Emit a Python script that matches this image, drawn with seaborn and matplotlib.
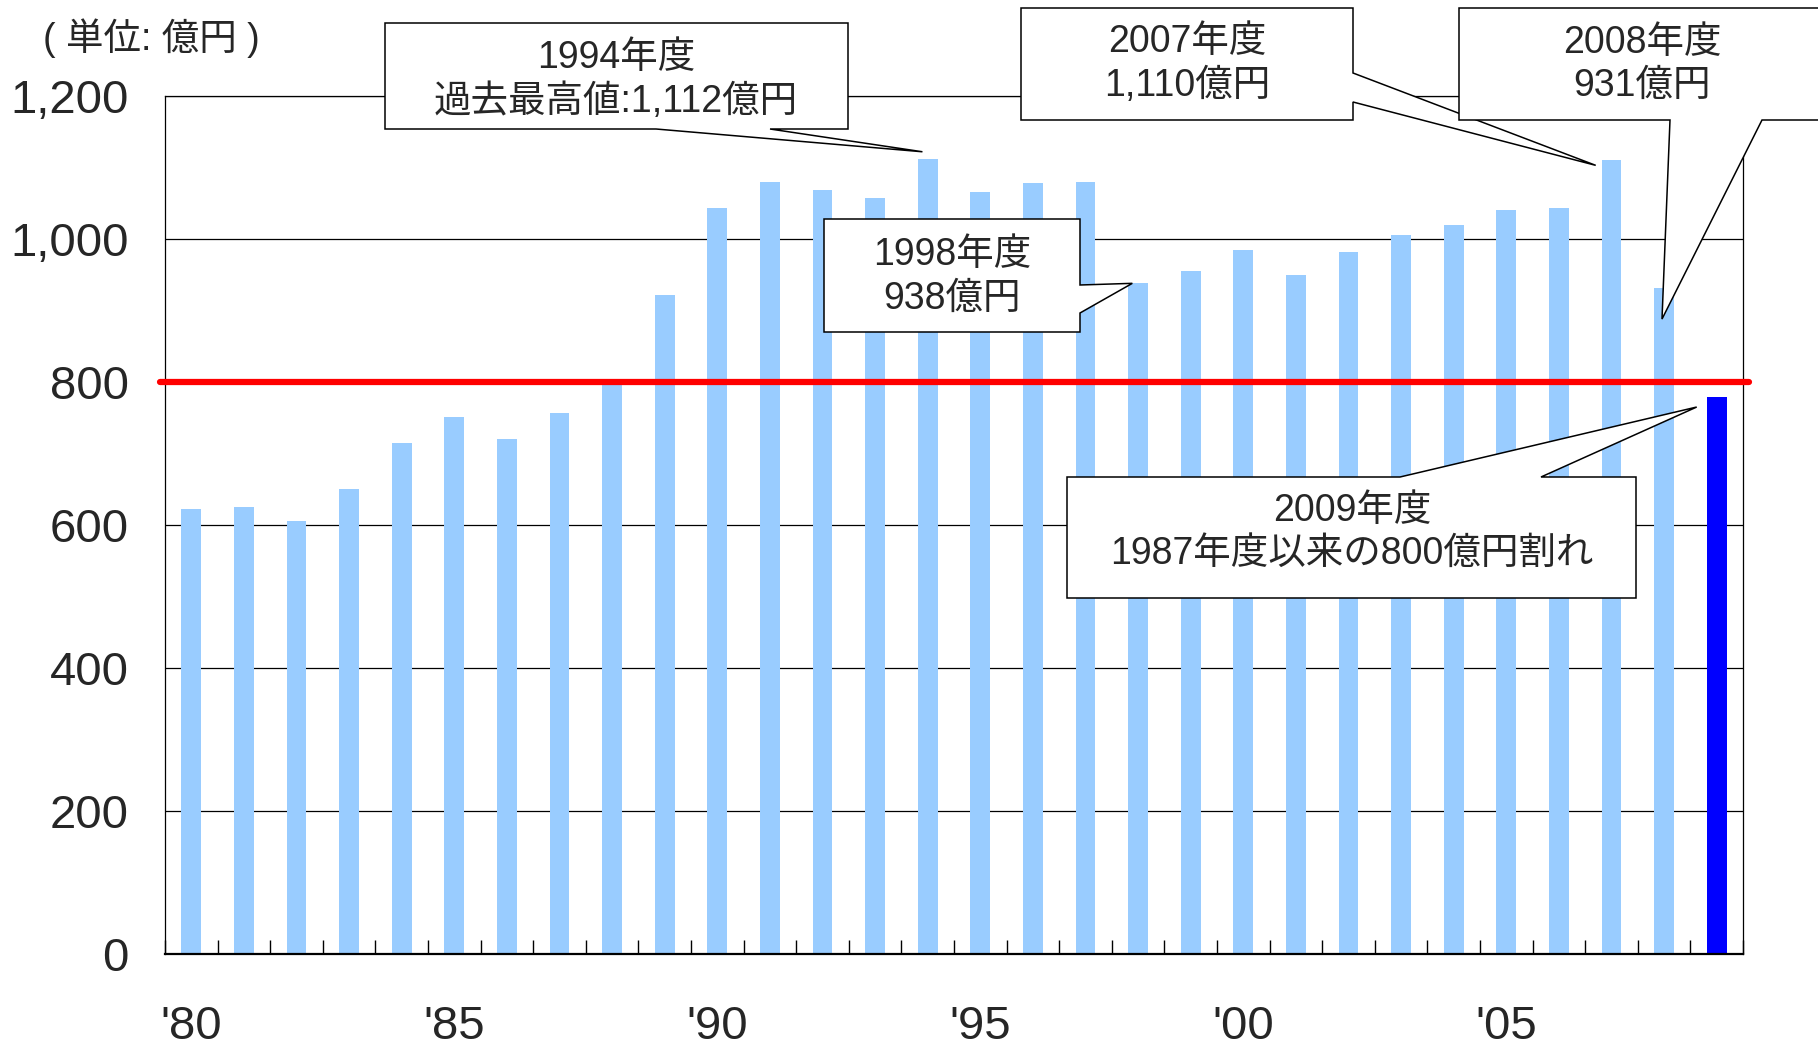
import matplotlib
matplotlib.use("Agg")
import numpy as np
import pandas as pd
import matplotlib.pyplot as plt
import seaborn as sns
from matplotlib.patches import Polygon
from matplotlib.ticker import FuncFormatter

# 年度別の値 (億円)
years = list(range(1980, 2010))
values = [622, 625, 606, 650, 715, 751, 720, 757, 803, 922,
          1044, 1080, 1069, 1058, 1112, 1066, 1078, 1080, 938, 955,
          985, 950, 982, 1005, 1019, 1041, 1044, 1110, 931, 779]
highlight_year = 2009
threshold = 800

tick_years = [1980, 1985, 1990, 1995, 2000, 2005]
tick_labels = ["'80", "'85", "'90", "'95", "'00", "'05"]
y_ticks = [0, 200, 400, 600, 800, 1000, 1200]
unit_label = "( 単位: 億円 )"

# callout: box in figure pixels (left, top, right, bottom), tail side, tail base, tip in data coords
callouts = [
    dict(box=(385, 23, 848, 129), side="bottom", base=(656, 770), tip=(13.9, 1122),
         center=(616, 80), text="1994年度\n過去最高値:1,112億円"),
    dict(box=(1021, 8, 1353, 120), side="right", base=(73, 102), tip=(26.7, 1103),
         center=(1187, 64), text="2007年度\n1,110億円"),
    dict(box=(1459, 8, 1830, 120), side="bottom", base=(1670, 1762), tip=(27.96, 888),
         center=(1642, 64), text="2008年度\n931億円"),
    dict(box=(824, 219, 1080, 332), side="right", base=(285, 313), tip=(17.89, 938),
         center=(952, 277), text="1998年度\n938億円"),
    dict(box=(1067, 477, 1636, 598), side="top", base=(1400, 1541), tip=(28.62, 765),
         center=(1352, 532), text="2009年度\n1987年度以来の800億円割れ"),
]

sns.set_style("white")
plt.rcParams["font.family"] = ["Liberation Sans", "Noto Sans CJK JP"]

W, H = 1818, 1043
fig = plt.figure(figsize=(W / 100, H / 100), dpi=100)
ax = fig.add_axes([165 / W, 1 - 954 / H, 1578 / W, 858 / H])

df = pd.DataFrame({"year": [str(y) for y in years], "value": values})
colors = ["#0000FF" if y == highlight_year else "#99CCFF" for y in years]
sns.barplot(data=df, x="year", y="value", hue="year", palette=colors, legend=False,
            width=0.38, saturation=1, linewidth=0, ax=ax)

ax.set_xlim(-0.5, len(years) - 0.5)
ax.set_ylim(0, 1200)
ax.set_xlabel("")
ax.set_ylabel("")

ax.set_yticks(y_ticks)
ax.yaxis.set_major_formatter(FuncFormatter(lambda v, p: f"{v:,.0f}"))
ax.yaxis.grid(True, color="black", lw=0.9)
ax.set_axisbelow(True)

ax.set_xticks([years.index(y) for y in tick_years])
ax.set_xticklabels(tick_labels)
ax.set_xticks(np.arange(-0.5, len(years), 1), minor=True)
ax.tick_params(axis="x", which="major", length=0, pad=37, labelsize=34)
ax.tick_params(axis="x", which="minor", direction="in", length=10, width=1, color="black", bottom=True)
ax.tick_params(axis="y", length=0, pad=26, labelsize=34)

for name, sp in ax.spines.items():
    sp.set_visible(True)
    sp.set_color("black")
    sp.set_linewidth(0.9)
ax.spines["bottom"].set_linewidth(1.6)

ax.axhline(threshold, xmin=-0.003, xmax=1.004, color="#FF0000", lw=4.5, clip_on=False, zorder=4)

fig.text(43 / W, 1 - 38 / H, unit_label, ha="left", va="center", fontsize=27)


def fpt(px, py):
    return (px / W, 1 - py / H)


to_fig = fig.transFigure.inverted()
for c in callouts:
    l, t, r, b = c["box"]
    tip = to_fig.transform(ax.transData.transform(c["tip"]))
    b1, b2 = c["base"]
    if c["side"] == "bottom":
        pts = [fpt(l, t), fpt(r, t), fpt(r, b), fpt(b2, b), tip, fpt(b1, b), fpt(l, b)]
    elif c["side"] == "right":
        pts = [fpt(l, t), fpt(r, t), fpt(r, b1), tip, fpt(r, b2), fpt(r, b), fpt(l, b)]
    else:
        pts = [fpt(l, t), fpt(b1, t), tip, fpt(b2, t), fpt(r, t), fpt(r, b), fpt(l, b)]
    poly = Polygon(pts, closed=True, facecolor="white", edgecolor="black", lw=1.1,
                   transform=fig.transFigure, zorder=5)
    fig.add_artist(poly)
    cx, cy = fpt(*c["center"])
    fig.text(cx, cy, c["text"], ha="center", va="center", multialignment="center",
             fontsize=27, linespacing=1.25, zorder=6)

fig.savefig("out.png", dpi=100)
